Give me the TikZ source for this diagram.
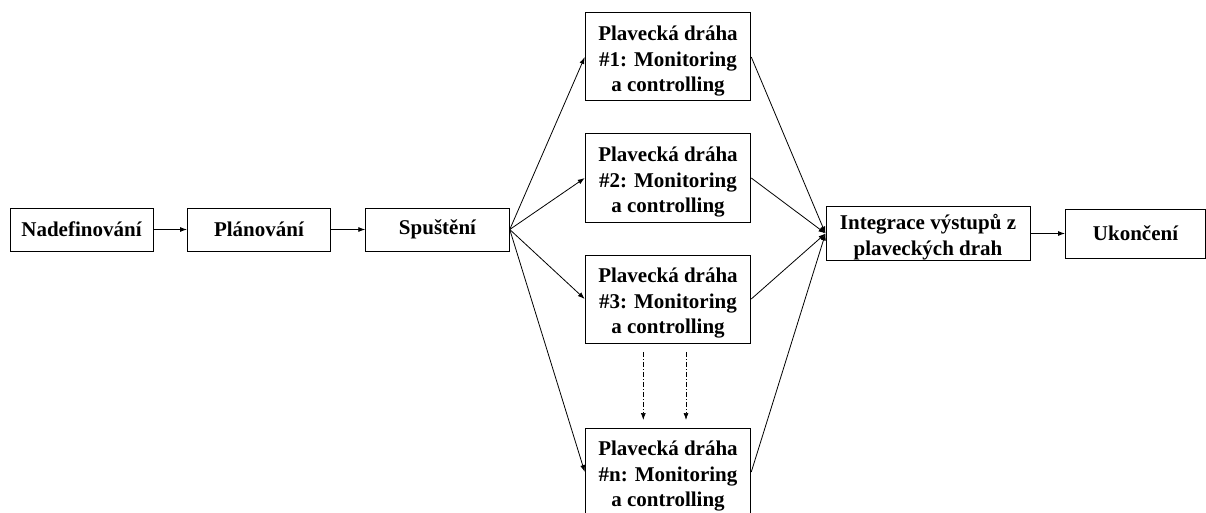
\documentclass[tikz,border=0pt]{standalone}
\usepackage{fontspec}
\setmainfont{Liberation Serif}
\usetikzlibrary{arrows.meta}
% taller first line, pushes multi-line box text slightly down
\newcommand\lanestrut[1]{\rule{0pt}{#1}}
\begin{document}
\begin{tikzpicture}[x=1pt,y=-1pt,
  box/.style={draw, line width=1pt, inner sep=0pt, align=center,
    font=\fontsize{21}{25.5}\selectfont\bfseries},
  lane/.style={box, minimum width=165.5pt, minimum height=88pt},
  flow/.style={line width=0.8pt, -{Latex[length=7pt,width=5pt]}},
  gap/.style={line width=0.7pt, dash pattern=on 5pt off 2pt on 1pt off 2pt,
    -{Latex[length=7pt,width=5pt]}}]
\useasboundingbox (0,0) rectangle (1206,513);

% main phase chain
\node[box, minimum width=143pt, minimum height=43pt] (nad)  at (81.5,229.5) {Nadefinování};
\node[box, minimum width=143pt, minimum height=43pt] (plan) at (259,229.5) {Plánování};
\node[box, minimum width=143.5pt, minimum height=43pt] (spu) at (437.5,229.5) {Spuštění};

% parallel swim lanes
\node[lane] (l1) at (668,57) {\lanestrut{23pt}Plavecká dráha\\\#1: Monitoring\\a controlling};
\node[lane] (l2) at (668,178) {\lanestrut{23pt}Plavecká dráha\\\#2: Monitoring\\a controlling};
\node[lane] (l3) at (668,299) {\lanestrut{23pt}Plavecká dráha\\\#3: Monitoring\\a controlling};
\node[lane] (ln) at (668,472) {\lanestrut{23pt}Plavecká dráha\\\#n: Monitoring\\a controlling};

% merge and close
\node[box, minimum width=204pt, minimum height=49pt] (int) at (928,233.5) {\lanestrut{23pt}Integrace výstupů z\\plaveckých drah};
\node[box, minimum width=140pt, minimum height=49pt] (uk) at (1135.5,233.5) {Ukončení};

\draw[flow] (nad) -- (plan);
\draw[flow] (plan) -- (spu);
\foreach \l in {l1,l2,l3,ln}{
  \draw[flow] (spu.east) -- (\l.west);
  \draw[flow] (\l.east) -- (int.west);
}
\draw[flow] (int) -- (uk);

% further lanes between #3 and #n
\coordinate (ga1) at (643.3,352);
\coordinate (gb1) at (643.3,420);
\coordinate (ga2) at (686,352);
\coordinate (gb2) at (686,420);
\draw[gap] (ga1) -- (gb1);
\draw[gap] (ga2) -- (gb2);
\end{tikzpicture}
\end{document}
